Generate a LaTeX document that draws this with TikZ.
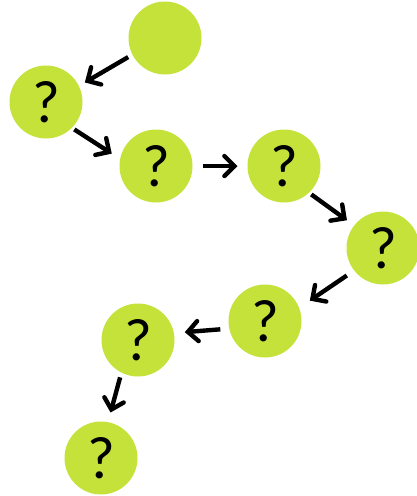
\documentclass[tikz,border=0pt]{standalone}
\usepackage{fontspec}
\setmainfont{Carlito}
\usetikzlibrary{arrows.meta}
\definecolor{lime}{RGB}{197,226,58}
\begin{document}
\begin{tikzpicture}[x=1pt,y=-1pt,
  ball/.style={circle,fill=lime,minimum size=73pt,inner sep=0pt,outer sep=0pt,
    font=\fontsize{60}{64}\selectfont},
  link/.style={line width=4.4pt,-{Straight Barb[length=10pt,width=20pt,line cap=round]}}]
\useasboundingbox (0,0) rectangle (417,496);
% the chain of steps
\node[ball] (c0) at (165,38) {};
\node[ball] (c1) at (46,102) {?};
\node[ball] (c2) at (156,166) {?};
\node[ball] (c3) at (284,166) {?};
\node[ball] (c4) at (383,248) {?};
\node[ball] (c5) at (265,321) {?};
\node[ball] (c6) at (138,340) {?};
\node[ball] (c7) at (101,458) {?};
% arrows between consecutive steps
\draw[link,shorten <=5pt,shorten >=7pt] (c0.207) -- (c1.26);
\draw[link,shorten <=3pt,shorten >=10pt] (c1.-45) -- (c2.169);
\draw[link,shorten <=10pt,shorten >=10pt] (c2.0) -- (c3.180);
\draw[link,shorten <=3pt,shorten >=9pt] (c3.-47) -- (c4.142);
\draw[link,shorten <=9pt,shorten >=13pt] (c4.218) -- (c5.21);
\draw[link,shorten <=9pt,shorten >=11pt] (c5.192) -- (c6.11);
\draw[link,shorten <=5pt,shorten >=10pt] (c6.243) -- (c7.79);
\end{tikzpicture}
\end{document}
